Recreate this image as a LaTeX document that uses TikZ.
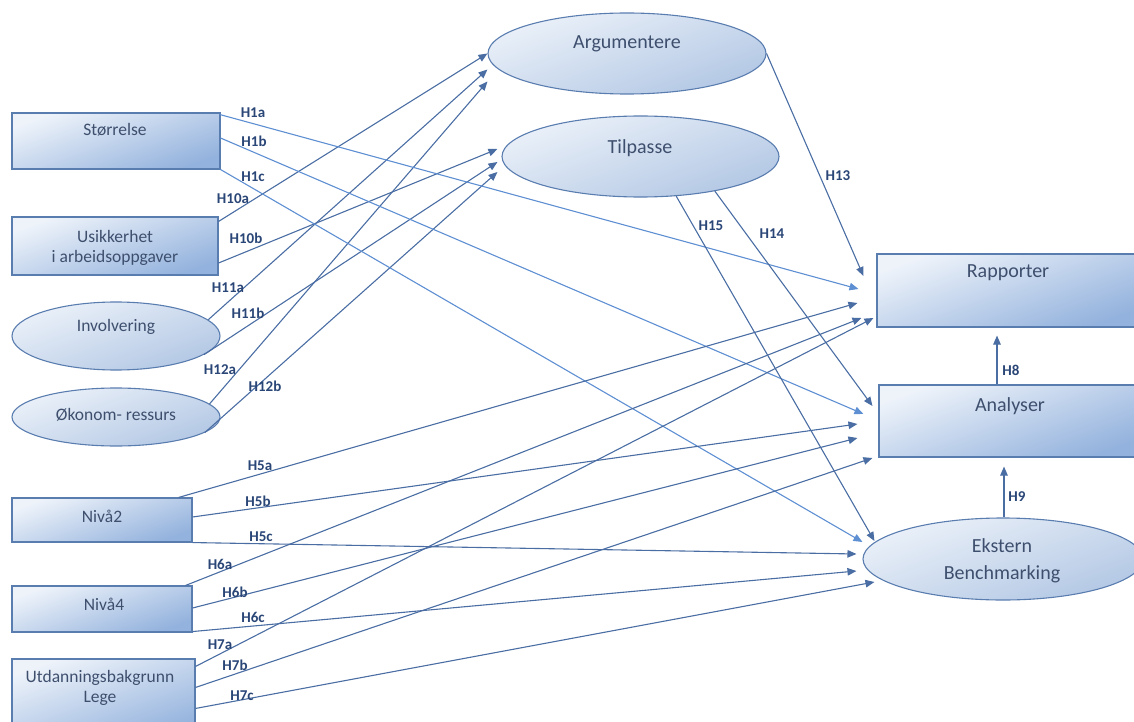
\documentclass[tikz,border=0pt]{standalone}
\usepackage{fontspec}
\setmainfont{Carlito}
\usetikzlibrary{shapes.geometric,arrows.meta,calc}
\definecolor{edgecol}{HTML}{4A6DA3}
\definecolor{edgelight}{HTML}{5E8FD2}
\definecolor{bordercol}{HTML}{5A7DB0}
\definecolor{rtop}{HTML}{EEF3FA}
\definecolor{rbot}{HTML}{93B2DD}
\definecolor{etop}{HTML}{EBF1F9}
\definecolor{ebot}{HTML}{B2C7E4}
\definecolor{nodetext}{HTML}{3E4F6E}
\definecolor{labtext}{HTML}{2A4677}
\begin{document}
\begin{tikzpicture}[x=1pt,y=-1pt,
  box/.style={rectangle, draw=bordercol, line width=1.1pt, inner sep=0pt,
    top color=rtop, bottom color=rbot, shading angle=20},
  oval/.style={ellipse, draw=bordercol, line width=1.1pt, inner sep=0pt,
    top color=etop, bottom color=ebot, shading angle=20},
  txt/.style={text=nodetext, align=center, inner sep=0pt,
    font=\fontsize{17.5}{20}\selectfont},
  bigtxt/.style={txt, font=\fontsize{20}{24}\selectfont},
  hyp/.style={text=labtext, inner sep=0pt, font=\bfseries\fontsize{15}{17}\selectfont},
  conn/.style={draw=edgecol, line width=1.1pt, -{Triangle[length=9pt,width=7.5pt]}},
  connlight/.style={conn, draw=edgelight}]
\useasboundingbox (0,0) rectangle (1134,722);
\clip (0,0) rectangle (1134,722);

% explanatory variables (left column)
\node[box, minimum width=208, minimum height=56] (stor) at (116,141) {};
\node[box, minimum width=206, minimum height=58] (usik) at (115,246) {};
\node[oval, minimum width=208, minimum height=68] (invo) at (116,336) {};
\node[oval, minimum width=208, minimum height=58] (okon) at (116,417) {};
\node[box, minimum width=180, minimum height=44] (niva2) at (102,520) {};
\node[box, minimum width=180, minimum height=46] (niva4) at (102,609) {};
\node[box, minimum width=183, minimum height=80] (utd) at (103.5,699) {};

% mediators
\node[oval, minimum width=278, minimum height=81] (argu) at (627,53.5) {};
\node[oval, minimum width=277, minimum height=81] (tilp) at (640.5,156.5) {};

% outcomes (right column)
\node[box, minimum width=263, minimum height=73] (rapp) at (1008.5,290.5) {};
\node[box, minimum width=261, minimum height=72] (anal) at (1009.5,421) {};
\node[oval, minimum width=280, minimum height=82] (ekst) at (1003,559) {};

% node texts
\node[txt] (tstor) at (115,130) {Størrelse};
\node[txt] (tusik) at (115,248) {Usikkerhet\\i arbeidsoppgaver};
\node[txt] (tinvo) at (116,327) {Involvering};
\node[txt] (tokon) at (116,415) {Økonom- ressurs};
\node[txt] (tniva2) at (102,516) {Nivå2};
\node[txt] (tniva4) at (104,604) {Nivå4};
\node[txt] (tutd) at (100,688) {Utdanningsbakgrunn\\Lege};
\node[bigtxt] (targu) at (627,44) {Argumentere};
\node[bigtxt] (ttilp) at (640,148) {Tilpasse};
\node[bigtxt] (trapp) at (1008,273) {Rapporter};
\node[bigtxt] (tanal) at (1010,406) {Analyser};
\node[bigtxt] (tekst) at (1002,560.5) {Ekstern\\[3pt]Benchmarking};

% paths into Argumentere
\draw[conn] ($(usik.north east)+(0,5)$) -- ($(argu.west)+(0,0)$);
\draw[conn] (invo.10) -- ($(argu.west)+(0,16)$);
\draw[conn] (okon.8) -- ($(argu.west)+(0,28)$);
% paths into Tilpasse
\draw[conn] ($(usik.east)+(0,17)$) -- ($(tilp.west)+(-4,-7.5)$);
\draw[conn] (invo.-12) -- ($(tilp.west)+(-4,5.5)$);
\draw[conn] (okon.-10) -- ($(tilp.west)+(-4,15.5)$);

% paths from Størrelse
\draw[connlight] ($(stor.north east)+(-1,2)$) -- ($(rapp.west)+(-18,-1.5)$);
\draw[connlight] ($(stor.east)+(0,-3)$) -- ($(anal.west)+(-15,-7)$);
\draw[connlight] (stor.south east) -- ($(ekst.west)+(0,-17)$);

% paths from Nivå2
\draw[conn] ($(niva2.north east)+(-14,0)$) -- ($(rapp.west)+(-19,12.5)$);
\draw[conn] ($(niva2.east)+(0,-3)$) -- ($(anal.west)+(-21,3)$);
\draw[conn] (niva2.south east) -- ($(ekst.west)+(-6,-5)$);

% paths from Nivå4
\draw[conn] ($(niva4.north east)+(-7,0)$) -- ($(rapp.west)+(-15,27.5)$);
\draw[conn] ($(niva4.east)+(0,-1)$) -- ($(anal.west)+(-21,17)$);
\draw[conn] ($(niva4.south east)+(0,-1)$) -- ($(ekst.west)+(-6,12)$);

% paths from Utdanningsbakgrunn
\draw[conn] ($(utd.north east)+(0,8)$) -- ($(rapp.west)+(-3,27.5)$);
\draw[conn] ($(utd.north east)+(0,29)$) -- ($(anal.west)+(-6,37)$);
\draw[conn] ($(utd.north east)+(0,50)$) -- ($(ekst.west)+(12,23)$);

% paths from the mediators
\draw[conn] (argu.east) -- ($(rapp.west)+(-13,-14.5)$);
\draw[conn] (tilp.-25) -- ($(anal.west)+(-6,-15)$);
\draw[conn] (tilp.-48) -- ($(ekst.west)+(12,-18)$);

% paths between outcomes
\draw[conn] ($(anal.north)+(-12.5,0)$) -- ($(rapp.south)+(-11.5,8)$);
\draw[conn] ($(ekst.north)+(1,0)$) -- ($(anal.south)+(-5.5,9)$);

% hypothesis labels
\node[hyp] (h1a) at (253,113) {H1a};
\node[hyp] (h1b) at (254,141) {H1b};
\node[hyp] (h1c) at (253,177) {H1c};
\node[hyp] (h10a) at (233,199) {H10a};
\node[hyp] (h10b) at (246,238) {H10b};
\node[hyp] (h11a) at (228,288) {H11a};
\node[hyp] (h11b) at (248,313) {H11b};
\node[hyp] (h12a) at (220,370) {H12a};
\node[hyp] (h12b) at (265,386) {H12b};
\node[hyp] (h5a) at (260,466) {H5a};
\node[hyp] (h5b) at (258,501) {H5b};
\node[hyp] (h5c) at (261,537) {H5c};
\node[hyp] (h6a) at (220,564) {H6a};
\node[hyp] (h6b) at (235,592) {H6b};
\node[hyp] (h6c) at (253,617) {H6c};
\node[hyp] (h7a) at (220,645) {H7a};
\node[hyp] (h7b) at (235,665) {H7b};
\node[hyp] (h7c) at (242,696) {H7c};
\node[hyp] (h13) at (838,176) {H13};
\node[hyp] (h14) at (772,234) {H14};
\node[hyp] (h15) at (711,226) {H15};
\node[hyp] (h8) at (1011,370) {H8};
\node[hyp] (h9) at (1017,497) {H9};
\end{tikzpicture}
\end{document}
